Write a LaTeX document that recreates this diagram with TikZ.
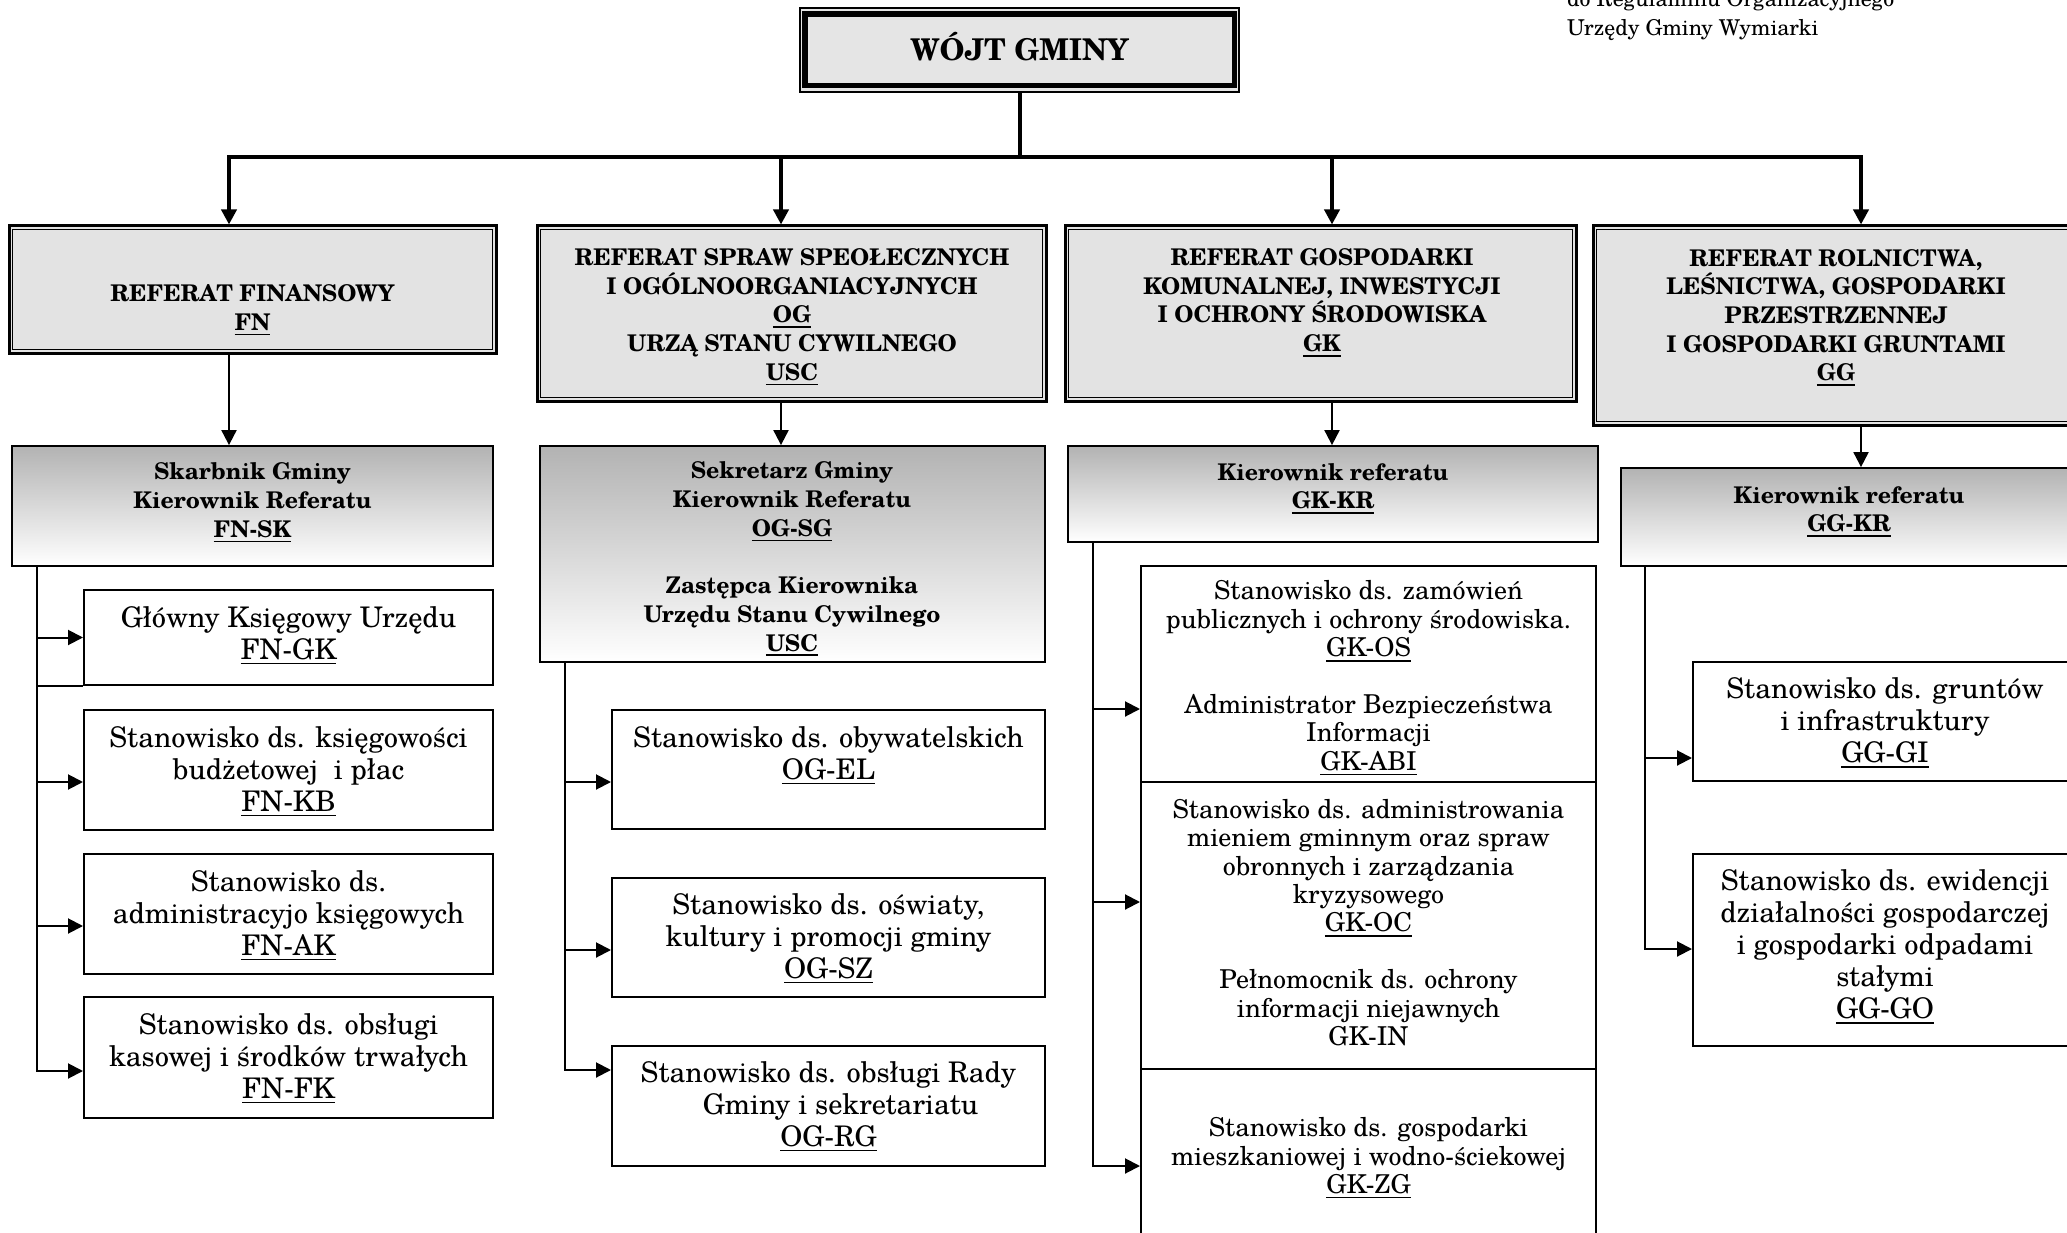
\documentclass[tikz,border=0pt]{standalone}
\usepackage{fontspec}
\setmainfont{texgyreschola}[Extension=.otf,UprightFont=*-regular,BoldFont=*-bold,ItalicFont=*-italic,BoldItalicFont=*-bolditalic]
\usetikzlibrary{arrows.meta}
\newcommand\ulx[1]{\setbox0\hbox{#1}\rlap{\rule[-5pt]{\wd0}{1.6pt}}\box0}
\newcommand\hdrf{\fontsize{23}{28.7}\selectfont\bfseries}
\newcommand\bodyf{\fontsize{28.4}{31.8}\selectfont}
\newcommand\gkf{\fontsize{26}{28.4}\selectfont}
\newcommand\ggf{\fontsize{28.4}{32}\selectfont}
\newcommand\wojtf{\fontsize{30}{32}\selectfont\bfseries}
\newcommand\notef{\fontsize{21.8}{29}\selectfont}
\tikzset{
  wbox/.style={draw, line width=1.5pt, fill=black!10, inner sep=0pt},
  dept/.style={draw, line width=3pt, fill=black!11, inner sep=0pt},
  kier/.style={draw, line width=1.8pt, top color=black!30, bottom color=white, inner sep=0pt},
  kid/.style={draw, line width=2pt, fill=white, inner sep=0pt},
  bus/.style={line width=4pt},
  busarrow/.style={line width=4pt, -{Triangle[length=15pt,width=15pt]}},
  conn/.style={line width=2pt},
  connarrow/.style={line width=2pt, -{Triangle[length=15pt,width=15pt]}},
  txt/.style={align=center, inner sep=0pt, yshift=-2.5pt}
}
\begin{document}
\begin{tikzpicture}[x=1pt,y=-1pt]
\useasboundingbox (0,0) rectangle (2067,1233);
\fill[white] (0,0) rectangle (2067,1233);

% ---------- boxes ----------
\node[wbox, minimum width=439pt, minimum height=84pt] (wojt) at (1019.5,50) {};
\draw[line width=5.5pt] ([shift={(5.5pt,-7pt)}]wojt.north west) rectangle ([shift={(-5.5pt,7pt)}]wojt.south east);

\node[dept, minimum width=487pt, minimum height=127pt] (fn) at (252.5,289.5) {};
\node[dept, minimum width=509pt, minimum height=175pt] (og) at (791.5,313.5) {};
\node[dept, minimum width=511pt, minimum height=175pt] (gk) at (1320.5,313.5) {};
\node[dept, minimum width=486pt, minimum height=199pt] (gg) at (1836,325.5) {};
\foreach \n in {fn,og,gk,gg}
  \draw[line width=1.3pt] ([shift={(5pt,-5pt)}]\n.north west) rectangle ([shift={(-5pt,5pt)}]\n.south east);

\node[kier, minimum width=481pt, minimum height=120pt] (fnk) at (252.5,506) {};
\node[kier, minimum width=505pt, minimum height=216pt] (ogk) at (792.5,554) {};
\node[kier, minimum width=530pt, minimum height=96pt] (gkk) at (1333,494) {};
\node[kier, minimum width=456pt, minimum height=98pt] (ggk) at (1849,517) {};

\node[kid, minimum width=409pt, minimum height=95pt] (fn1) at (288.5,637.5) {};
\node[kid, minimum width=409pt, minimum height=120pt] (fn2) at (288.5,770) {};
\node[kid, minimum width=409pt, minimum height=120pt] (fn3) at (288.5,914) {};
\node[kid, minimum width=409pt, minimum height=121pt] (fn4) at (288.5,1057.5) {};

\node[kid, minimum width=433pt, minimum height=119pt] (og1) at (828.5,769.5) {};
\node[kid, minimum width=433pt, minimum height=119pt] (og2) at (828.5,937.5) {};
\node[kid, minimum width=433pt, minimum height=120pt] (og3) at (828.5,1106) {};

\node[kid, minimum width=455pt, minimum height=216pt] (gk1) at (1368.5,674) {};
\node[kid, minimum width=455pt, minimum height=287pt] (gk2) at (1368.5,925.5) {};
\node[kid, minimum width=455pt, minimum height=201pt] (gk3) at (1368.5,1169.5) {};

\node[kid, minimum width=384pt, minimum height=119pt] (gg1) at (1885,721.5) {};
\node[kid, minimum width=384pt, minimum height=192pt] (gg2) at (1885,950) {};

% ---------- connectors ----------
\coordinate (bfn) at (229,157);
\coordinate (bog) at (781,157);
\coordinate (bgk) at (1332,157);
\coordinate (bgg) at (1861,157);
\draw[bus] (wojt.south) -- (wojt.south |- bfn);
\draw[bus, line cap=rect] (bfn) -- (bgg);
\foreach \b/\n in {bfn/fn,bog/og,bgk/gk,bgg/gg}
  \draw[busarrow] (\b) -- (\n.north -| \b);
\foreach \b/\n/\k in {bfn/fn/fnk,bog/og/ogk,bgk/gk/gkk,bgg/gg/ggk}
  \draw[connarrow] (\n.south -| \b) -- (\k.north -| \b);

\coordinate (xfn) at (37,0);
\coordinate (xog) at (565,0);
\coordinate (xgk) at (1093,0);
\coordinate (xgg) at (1645,0);

\coordinate (afn2) at ([yshift=-12pt]fn2.west);
\coordinate (afn3) at ([yshift=-12pt]fn3.west);
\coordinate (afn4) at ([yshift=-13.5pt]fn4.west);
\draw[connarrow] (fnk.south -| xfn) |- (afn4);
\draw[connarrow] (fn1.west -| xfn) -- (fn1.west);
\draw[connarrow] (afn2 -| xfn) -- (afn2);
\draw[connarrow] (afn3 -| xfn) -- (afn3);
\draw[conn] (fn1.south west -| xfn) -- (fn1.south west);

\coordinate (aog1) at ([yshift=-12.5pt]og1.west);
\coordinate (aog2) at ([yshift=-12.5pt]og2.west);
\coordinate (aog3) at ([yshift=36pt]og3.west);
\draw[connarrow] (ogk.south -| xog) |- (aog3);
\draw[connarrow] (aog1 -| xog) -- (aog1);
\draw[connarrow] (aog2 -| xog) -- (aog2);

\coordinate (agk1) at ([yshift=-35pt]gk1.west);
\coordinate (agk2) at ([yshift=23.5pt]gk2.west);
\coordinate (agk3) at ([yshift=3.5pt]gk3.west);
\draw[connarrow] (gkk.south -| xgk) |- (agk3);
\draw[connarrow] (agk1 -| xgk) -- (agk1);
\draw[connarrow] (agk2 -| xgk) -- (agk2);

\coordinate (agg1) at ([yshift=-36.5pt]gg1.west);
\coordinate (agg2) at ([yshift=1pt]gg2.west);
\draw[connarrow] (ggk.south -| xgg) |- (agg2);
\draw[connarrow] (agg1 -| xgg) -- (agg1);

% ---------- texts ----------
\node[anchor=base west, inner sep=0pt, font=\notef] (n1) at (1567,7) {do Regulaminu Organizacyjnego};
\node[anchor=base west, inner sep=0pt, font=\notef] (n2) at (1567,36) {Urzędy Gminy Wymiarki};

\node[txt, font=\wojtf] (tw) at (1019.5,44.5) {WÓJT GMINY};

\node[txt, font=\hdrf] (tfn) at (252.5,307.5) {REFERAT FINANSOWY\\\ulx{FN}};
\node[txt, font=\hdrf] (tog) at (792,314.5) {REFERAT SPRAW SPEOŁECZNYCH\\I OGÓLNOORGANIACYJNYCH\\\ulx{OG}\\URZĄ STANU CYWILNEGO\\\ulx{USC}};
\node[txt, font=\hdrf] (tgk) at (1322,300) {REFERAT GOSPODARKI\\KOMUNALNEJ, INWESTYCJI\\I OCHRONY ŚRODOWISKA\\\ulx{GK}};
\node[txt, font=\hdrf] (tgg) at (1836,315) {REFERAT ROLNICTWA,\\LEŚNICTWA, GOSPODARKI\\PRZESTRZENNEJ\\I GOSPODARKI GRUNTAMI\\\ulx{GG}};

\node[txt, font=\hdrf] (tfnk) at (252.5,500) {Skarbnik Gminy\\Kierownik Referatu\\\ulx{FN-SK}};
\node[txt, font=\hdrf] (togk) at (792,556.5) {Sekretarz Gminy\\Kierownik Referatu\\\ulx{OG-SG}\\[28.7pt]Zastępca Kierownika\\Urzędu Stanu Cywilnego\\\ulx{USC}};
\node[txt, font=\hdrf] (tgkk) at (1333,486) {Kierownik referatu\\\ulx{GK-KR}};
\node[txt, font=\hdrf] (tggk) at (1849,509) {Kierownik referatu\\\ulx{GG-KR}};

\node[txt, font=\bodyf] (tfn1) at (288.5,633) {Główny Księgowy Urzędu\\\ulx{FN-GK}};
\node[txt, font=\bodyf] (tfn2) at (288.5,769) {Stanowisko ds. księgowości\\budżetowej\ \ i płac\\\ulx{FN-KB}};
\node[txt, font=\bodyf] (tfn3) at (288.5,913) {Stanowisko ds.\\administracyjo księgowych\\\ulx{FN-AK}};
\node[txt, font=\bodyf] (tfn4) at (288.5,1056) {Stanowisko ds. obsługi\\kasowej i środków trwałych\\\ulx{FN-FK}};

\node[txt, font=\bodyf] (tog1) at (828.5,753) {Stanowisko ds. obywatelskich\\\ulx{OG-EL}};
\node[txt, font=\bodyf] (tog2) at (828.5,936) {Stanowisko ds. oświaty,\\kultury i promocji gminy\\\ulx{OG-SZ}};
\node[txt, font=\bodyf] (tog3) at (828.5,1104) {Stanowisko ds. obsługi Rady\\\hspace*{24pt}Gminy i sekretariatu\\\ulx{OG-RG}};

\node[txt, font=\gkf] (tgk1) at (1368.5,675.5) {Stanowisko ds. zamówień\\publicznych i ochrony środowiska.\\\ulx{GK-OS}\\[28.4pt]Administrator Bezpieczeństwa\\Informacji\\\ulx{GK-ABI}};
\node[txt, font=\gkf] (tgk2) at (1368.5,920) {Stanowisko ds. administrowania\\mieniem gminnym oraz spraw\\obronnych i zarządzania\\kryzysowego\\\ulx{GK-OC}\\[28.4pt]Pełnomocnik ds. ochrony\\informacji niejawnych\\GK-IN};
\node[txt, font=\gkf] (tgk3) at (1368.5,1155.5) {Stanowisko ds. gospodarki\\mieszkaniowej i wodno-ściekowej\\\ulx{GK-ZG}};

\node[txt, font=\ggf] (tgg1) at (1885,720.5) {Stanowisko ds. gruntów\\i infrastruktury\\\ulx{GG-GI}};
\node[txt, font=\ggf] (tgg2) at (1885,944.5) {Stanowisko ds. ewidencji\\działalności gospodarczej\\i gospodarki odpadami\\stałymi\\\ulx{GG-GO}};
\end{tikzpicture}
\end{document}
